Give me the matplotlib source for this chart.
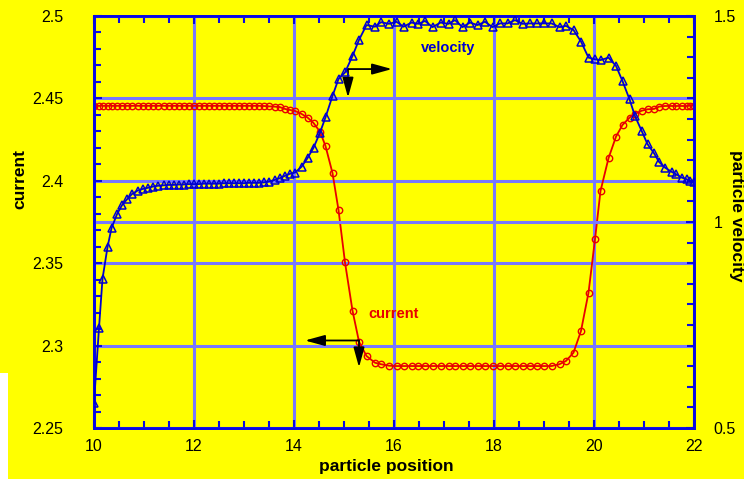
import matplotlib
matplotlib.use("Agg")
import matplotlib.pyplot as plt
from matplotlib.ticker import MultipleLocator, FormatStrFormatter
from matplotlib.patches import Rectangle

plt.rcParams['font.family'] = ['Liberation Sans', 'DejaVu Sans']

# particle positions (shared by both series)
position = [10.00, 10.10, 10.17, 10.27, 10.35, 10.46, 10.56, 10.66, 10.76, 10.87,
            10.97, 11.08, 11.18, 11.28, 11.39, 11.49, 11.59, 11.69, 11.79, 11.89,
            11.99, 12.09, 12.19, 12.29, 12.39, 12.49, 12.59, 12.69, 12.79, 12.89,
            12.99, 13.09, 13.19, 13.29, 13.39, 13.49, 13.61, 13.71, 13.82, 13.92,
            14.02, 14.15, 14.27, 14.39, 14.52, 14.63, 14.77, 14.89, 15.02, 15.17,
            15.30, 15.45, 15.62, 15.74, 15.90, 16.05, 16.19, 16.35, 16.49, 16.62,
            16.77, 16.93, 17.09, 17.22, 17.37, 17.52, 17.67, 17.82, 17.97, 18.12,
            18.27, 18.42, 18.57, 18.72, 18.85, 19.00, 19.15, 19.31, 19.44, 19.59,
            19.74, 19.89, 20.02, 20.13, 20.29, 20.44, 20.57, 20.71, 20.82, 20.95,
            21.07, 21.20, 21.30, 21.42, 21.55, 21.64, 21.75, 21.85, 21.92, 22.00]

velocity = [0.561, 0.743, 0.862, 0.939, 0.985, 1.019, 1.041, 1.055, 1.068, 1.076,
            1.080, 1.083, 1.086, 1.088, 1.089, 1.090, 1.090, 1.091, 1.091, 1.092,
            1.092, 1.092, 1.093, 1.093, 1.093, 1.093, 1.094, 1.094, 1.094, 1.094,
            1.094, 1.095, 1.095, 1.095, 1.096, 1.098, 1.102, 1.106, 1.112, 1.117,
            1.120, 1.134, 1.155, 1.180, 1.217, 1.254, 1.306, 1.347, 1.363, 1.403,
            1.442, 1.478, 1.474, 1.485, 1.481, 1.486, 1.474, 1.484, 1.481, 1.488,
            1.473, 1.484, 1.481, 1.490, 1.473, 1.484, 1.478, 1.486, 1.473, 1.482,
            1.482, 1.490, 1.481, 1.482, 1.482, 1.482, 1.482, 1.473, 1.476, 1.466,
            1.438, 1.399, 1.395, 1.393, 1.399, 1.379, 1.342, 1.298, 1.257, 1.222,
            1.189, 1.167, 1.146, 1.132, 1.122, 1.116, 1.108, 1.104, 1.100, 1.098]

current = [2.4455, 2.4455, 2.4455, 2.4455, 2.4455, 2.4455, 2.4455, 2.4455, 2.4455, 2.4455,
           2.4455, 2.4455, 2.4455, 2.4455, 2.4455, 2.4455, 2.4455, 2.4455, 2.4455, 2.4455,
           2.4455, 2.4455, 2.4455, 2.4455, 2.4455, 2.4455, 2.4455, 2.4455, 2.4455, 2.4455,
           2.4455, 2.4455, 2.4455, 2.4455, 2.4454, 2.4452, 2.4450, 2.4448, 2.4436, 2.4430,
           2.4424, 2.4406, 2.4384, 2.4351, 2.4298, 2.4211, 2.4047, 2.3823, 2.3505, 2.3212,
           2.3024, 2.2937, 2.2896, 2.2887, 2.2878, 2.2876, 2.2876, 2.2876, 2.2876, 2.2876,
           2.2876, 2.2876, 2.2876, 2.2876, 2.2876, 2.2876, 2.2876, 2.2876, 2.2876, 2.2876,
           2.2876, 2.2876, 2.2876, 2.2876, 2.2876, 2.2876, 2.2876, 2.2887, 2.2907, 2.2957,
           2.3089, 2.3321, 2.3645, 2.3938, 2.4137, 2.4268, 2.4339, 2.4383, 2.4406, 2.4425,
           2.4434, 2.4436, 2.4450, 2.4454, 2.4454, 2.4454, 2.4454, 2.4454, 2.4455, 2.4456]

x_ticks = [10, 12, 14, 16, 18, 20, 22]
current_ticks = [2.25, 2.3, 2.35, 2.4, 2.45, 2.5]
velocity_ticks = [0.5, 1.0, 1.5]

YELLOW = '#ffff00'
SPINE = '#0a0ae0'
GRID = '#7878ff'
BLUE = '#0000d0'
RED = '#e80000'

fig = plt.figure(figsize=(7.44, 4.79), dpi=100, facecolor=YELLOW)
fig.patches.append(Rectangle((0, 0), 8 / 744, 106 / 479, transform=fig.transFigure,
                             facecolor='white', edgecolor='none', zorder=-10))
ax = fig.add_axes([94 / 744, 1 - 428 / 479, 600 / 744, 412 / 479])
ax.set_facecolor(YELLOW)
ax2 = ax.twinx()

ax.plot(position, current, color=RED, lw=1.3, marker='o', ms=4.6,
        mfc='none', mec=RED, mew=1.0, zorder=3)
ax2.plot(position, velocity, color=BLUE, lw=1.3, marker='^', ms=5.2,
         mfc='none', mec=BLUE, mew=1.1, zorder=3)

ax.set_xlim(10, 22)
ax.set_ylim(2.25, 2.5)
ax2.set_ylim(0.5, 1.5)

ax.set_xticks(x_ticks)
ax.xaxis.set_minor_locator(MultipleLocator(0.5))
ax.set_yticks(current_ticks)
ax.yaxis.set_minor_locator(MultipleLocator(0.01))
ax.yaxis.set_major_formatter(FormatStrFormatter('%g'))
ax2.set_yticks(velocity_ticks)
ax2.yaxis.set_minor_locator(MultipleLocator(0.05))
ax2.yaxis.set_major_formatter(FormatStrFormatter('%g'))

ax.grid(True, which='major', color=GRID, lw=2.2)
ax2.grid(True, axis='y', which='major', color=GRID, lw=2.2)
ax.set_axisbelow(True)
ax2.set_axisbelow(True)

for a in (ax, ax2):
    for s in a.spines.values():
        s.set_color(SPINE)
        s.set_linewidth(2)

ax.tick_params(axis='x', which='both', direction='in', top=True, bottom=True,
               color=SPINE, width=1.5, labelsize=11.5, pad=8)
ax.tick_params(axis='x', which='major', length=6)
ax.tick_params(axis='x', which='minor', length=5)
ax.tick_params(axis='y', which='both', direction='in', left=True, right=False,
               color=SPINE, width=1.5, labelsize=11.5, pad=22)
ax.tick_params(axis='y', which='major', length=6)
ax.tick_params(axis='y', which='minor', length=5)
ax2.tick_params(axis='y', which='both', direction='in', color=SPINE, width=1.5,
                labelsize=11.5, pad=14)
ax2.tick_params(axis='y', which='major', length=6)
ax2.tick_params(axis='y', which='minor', length=5)

# annotations
ax.text(17.08, 2.4806, 'velocity', color=BLUE, fontsize=10.5, fontweight='bold',
        ha='center', va='center', zorder=5)
ax.text(16.0, 2.3192, 'current', color=RED, fontsize=10.5, fontweight='bold',
        ha='center', va='center', zorder=5)

arrow_kw = dict(arrowstyle='-|>,head_length=0.8,head_width=0.22', color='black',
                lw=1.3, shrinkA=0, shrinkB=0, mutation_scale=15)
ax.annotate('', xy=(15.96, 2.4678), xytext=(15.08, 2.4678), arrowprops=arrow_kw, zorder=6)
ax.annotate('', xy=(15.08, 2.4505), xytext=(15.08, 2.4678), arrowprops=arrow_kw, zorder=6)
ax.annotate('', xy=(14.22, 2.3031), xytext=(15.30, 2.3031), arrowprops=arrow_kw, zorder=6)
ax.annotate('', xy=(15.30, 2.2868), xytext=(15.30, 2.3031), arrowprops=arrow_kw, zorder=6)

fig.text(386 / 744, 1 - 466 / 479, 'particle position', fontsize=12.5, fontweight='bold',
         ha='center', va='center')
fig.text(20 / 744, 1 - 179 / 479, 'current', fontsize=12.5, fontweight='bold',
         rotation=90, ha='center', va='center')
fig.text(736.5 / 744, 1 - 216 / 479, 'particle velocity', fontsize=12.5, fontweight='bold',
         rotation=270, ha='center', va='center')

fig.savefig('out.png', dpi=100, facecolor=YELLOW)
